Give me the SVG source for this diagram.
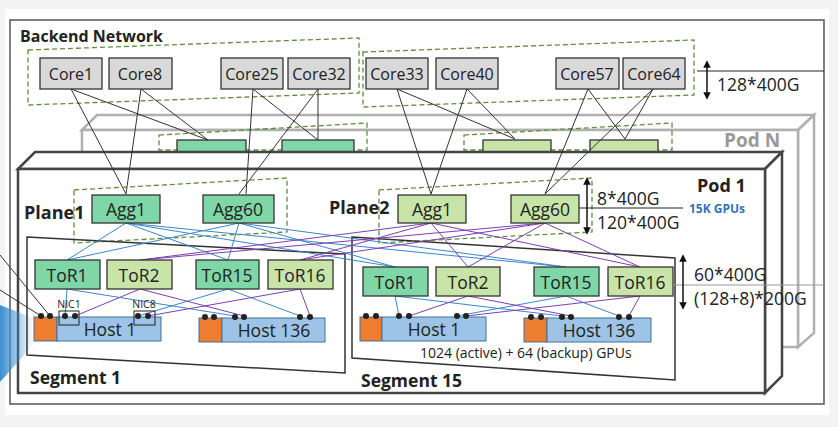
<svg xmlns="http://www.w3.org/2000/svg" width="838" height="427" viewBox="0 0 838 427">
<defs>
<style>
text{font-family:"Open Sans","Noto Sans","Liberation Sans",sans-serif;fill:#222}
.core{fill:#d9d9d9;stroke:#333;stroke-width:1.3}
.g{fill:#7fd6a6;stroke:#333;stroke-width:1.3}
.lg{fill:#c8e4a8;stroke:#333;stroke-width:1.3}
.dash{fill:none;stroke:#5e8f3e;stroke-width:1.3;stroke-dasharray:5,3}
.nt{font-size:16px;text-anchor:middle}
.nt2{font-size:17.5px;text-anchor:middle}
.bl{stroke:#3b86c9;stroke-width:1;fill:none}
.pu{stroke:#7d3fb0;stroke-width:1;fill:none}
.bk{stroke:#333;stroke-width:1;fill:none}
.host{fill:#9dc3e6;stroke:#41719c;stroke-width:1}
.gpu{fill:#ed7d31;stroke:#41719c;stroke-width:1}
.dot{fill:#222}
.b{font-weight:bold}
</style>
<marker id="ah" viewBox="0 0 10 10" refX="5" refY="5" markerWidth="5" markerHeight="5" orient="auto-start-reverse"><path d="M0,0L10,5L0,10z" fill="#111"/></marker>
<linearGradient id="fan" x1="0" x2="1"><stop offset="0" stop-color="#3d8fd0"/><stop offset="1" stop-color="#3d8fd0" stop-opacity="0"/></linearGradient>
</defs>
<rect width="838" height="427" fill="#f3f3f3"/>
<rect x="5" y="9" width="824" height="406" fill="#fff"/>
<rect x="10" y="20" width="814" height="384" fill="none" stroke="#555" stroke-width="1.5"/>
<text x="20" y="42" class="b" font-size="16">Backend Network</text>
<polygon class="dash" points="28,50 359,38 359,93 28,105"/>
<polygon class="dash" points="363,52 694,40 694,95 363,107"/>
<g id="podN" fill="#fff" stroke="#b0b0b0" stroke-width="2.5">
<polygon points="82,130 97,115 814,115 798,130"/>
<polygon points="798,130 814,115 814,333 798,347"/>
<rect x="82" y="130" width="716" height="217"/>
</g>
<text x="724" y="147" class="b" font-size="19" style="fill:#999">Pod N</text>
<polygon class="dash" points="159,135 367,123 367,150 159,150"/>
<polygon class="dash" points="464,135 672,123 672,150 464,150"/>
<rect x="177" y="140" width="69" height="12" class="g"/>
<rect x="282" y="140" width="72" height="12" class="g"/>
<rect x="483" y="140" width="68" height="12" class="lg"/>
<rect x="590" y="140" width="68" height="12" class="lg"/>
<g id="pod1" fill="#fff" stroke="#444" stroke-width="2.5">
<polygon points="18,169 35,152 782,152 765,169"/>
<polygon points="765,169 782,152 782,376 765,393"/>
<rect x="18" y="169" width="747" height="224"/>
</g>
<text x="697" y="192" class="b" font-size="18">Pod 1</text>
<text x="689" y="213" class="b" font-size="12" style="fill:#2e75b6">15K GPUs</text>
<g id="connectors">
<path class="bk" d="M71,89L126,194M71,89L208,140M141,89L126,194M141,89L208,140M253,89L246,194M253,89L318,140M318,89L318,140M318,89L239,194M397,89L431,194M397,89L515,139M467,89L431,194M467,89L515,139M588,89L545,194M588,89L625,139M653,89L625,139M653,89L545,194"/>
<path class="bk" d="M0,255L50,316M0,290L41,316"/>
</g>
<polygon points="0,305 33,318 33,345 0,382" fill="url(#fan)"/>
<polygon class="dash" points="74,190 287,178 287,232 74,243"/>
<polygon class="dash" points="379,190 592,178 592,232 379,243"/>
<text x="24" y="219" class="b" font-size="18">Plane1</text>
<text x="329" y="214" class="b" font-size="18">Plane2</text>
<polygon points="27,237 345,254 345,373 27,355" fill="none" stroke="#333" stroke-width="1.5"/>
<polygon points="352,237 675,258 675,380 352,358" fill="none" stroke="#333" stroke-width="1.5"/>
<g id="links">
<path class="bl" d="M126,223L67,260M126,223L228,260M126,223L395,267M126,223L566,267M239,223L67,260M239,223L228,260M239,223L395,267M239,223L566,267"/>
<path class="pu" d="M431,223L140,260M431,223L300,260M431,223L468,267M431,223L640,267M545,223L140,260M545,223L300,260M545,223L468,267M545,223L640,267"/>
<path class="bl" d="M67,289L65,316M67,289L235,316M228,289L138,316M228,289L300,316M395,296L399,316M395,296L562,316M566,296L457,316M566,296L619,316"/>
<path class="pu" d="M140,289L75,316M140,289L244,316M300,289L148,316M300,289L310,316M468,296L409,316M468,296L571,316M640,296L466,316M640,296L629,316"/>
</g>
<g id="core1"><rect x="40" y="58" width="62" height="31" class="core"/><text x="71" y="80" class="nt">Core1</text></g>
<g id="core8"><rect x="109" y="58" width="63" height="31" class="core"/><text x="140" y="80" class="nt">Core8</text></g>
<g id="core25"><rect x="221" y="58" width="62" height="31" class="core"/><text x="252" y="80" class="nt">Core25</text></g>
<g id="core32"><rect x="288" y="58" width="62" height="31" class="core"/><text x="319" y="80" class="nt">Core32</text></g>
<g id="core33"><rect x="366" y="58" width="62" height="31" class="core"/><text x="397" y="80" class="nt">Core33</text></g>
<g id="core40"><rect x="436" y="58" width="62" height="31" class="core"/><text x="467" y="80" class="nt">Core40</text></g>
<g id="core57"><rect x="556" y="58" width="63" height="31" class="core"/><text x="587" y="80" class="nt">Core57</text></g>
<g id="core64"><rect x="623" y="58" width="62" height="31" class="core"/><text x="654" y="80" class="nt">Core64</text></g>
<line x1="697" y1="71" x2="824" y2="71" stroke="#222"/>
<line x1="707" y1="64" x2="707" y2="96" stroke="#111" stroke-width="1.5" marker-start="url(#ah)" marker-end="url(#ah)"/>
<text x="717" y="91" font-size="17.5">128*400G</text>
<g id="agg1p1"><rect x="92" y="195" width="68" height="28" class="g"/><text x="126" y="216" class="nt2">Agg1</text></g>
<g id="agg60p1"><rect x="203" y="195" width="71" height="28" class="g"/><text x="238" y="216" class="nt2">Agg60</text></g>
<g id="agg1p2"><rect x="398" y="195" width="68" height="28" class="lg"/><text x="432" y="216" class="nt2">Agg1</text></g>
<g id="agg60p2"><rect x="511" y="195" width="68" height="28" class="lg"/><text x="545" y="216" class="nt2">Agg60</text></g>
<line x1="579" y1="208" x2="683" y2="208" stroke="#222"/>
<line x1="587" y1="181" x2="587" y2="231" stroke="#111" stroke-width="1.5" marker-start="url(#ah)" marker-end="url(#ah)"/>
<text x="597" y="205" font-size="17.5">8*400G</text>
<text x="597" y="229" font-size="17.5">120*400G</text>
<g id="s1tor1"><rect x="35" y="260" width="65" height="29" class="g"/><text x="67" y="282" class="nt2">ToR1</text></g>
<g id="s1tor2"><rect x="107" y="260" width="65" height="29" class="lg"/><text x="139" y="282" class="nt2">ToR2</text></g>
<g id="s1tor15"><rect x="196" y="260" width="63" height="29" class="g"/><text x="227" y="282" class="nt2">ToR15</text></g>
<g id="s1tor16"><rect x="268" y="260" width="65" height="29" class="lg"/><text x="300" y="282" class="nt2">ToR16</text></g>
<g id="s15tor1"><rect x="363" y="267" width="65" height="29" class="g"/><text x="395" y="289" class="nt2">ToR1</text></g>
<g id="s15tor2"><rect x="436" y="267" width="64" height="29" class="lg"/><text x="468" y="289" class="nt2">ToR2</text></g>
<g id="s15tor15"><rect x="534" y="267" width="65" height="29" class="g"/><text x="566" y="289" class="nt2">ToR15</text></g>
<g id="s15tor16"><rect x="608" y="267" width="65" height="29" class="lg"/><text x="640" y="289" class="nt2">ToR16</text></g>
<line x1="673" y1="285" x2="824" y2="285" stroke="#999"/>
<line x1="683" y1="258" x2="683" y2="306" stroke="#111" stroke-width="1.5" marker-start="url(#ah)" marker-end="url(#ah)"/>
<text x="694" y="281" font-size="17.5">60*400G</text>
<text x="694" y="305" font-size="17.5">(128+8)*200G</text>
<g id="s1host1"><rect x="34" y="317" width="23" height="24" class="gpu"/><rect x="57" y="317" width="104" height="24" class="host"/><text x="110" y="336" class="nt2">Host 1</text>
<rect x="59" y="311" width="20" height="14" fill="none" stroke="#222"/><rect x="134" y="311" width="21" height="14" fill="none" stroke="#222"/>
<text x="69" y="308" text-anchor="middle" font-size="10.5">NIC1</text><text x="144" y="308" text-anchor="middle" font-size="10.5">NIC8</text></g>
<g id="s1host136"><rect x="199" y="318" width="23" height="24" class="gpu"/><rect x="222" y="318" width="103" height="24" class="host"/><text x="274" y="337" class="nt2">Host 136</text></g>
<g id="s15host1"><rect x="360" y="317" width="22" height="24" class="gpu"/><rect x="382" y="317" width="104" height="24" class="host"/><text x="434" y="336" class="nt2">Host 1</text></g>
<g id="s15host136"><rect x="524" y="318" width="23" height="24" class="gpu"/><rect x="547" y="318" width="104" height="24" class="host"/><text x="599" y="337" class="nt2">Host 136</text></g>
<g class="dot">
<circle cx="41" cy="316" r="3"/><circle cx="50" cy="316" r="3"/><circle cx="65" cy="316" r="3"/><circle cx="75" cy="316" r="3"/><circle cx="138" cy="316" r="3"/><circle cx="148" cy="316" r="3"/>
<circle cx="205" cy="317" r="3"/><circle cx="214" cy="317" r="3"/><circle cx="235" cy="317" r="3"/><circle cx="244" cy="317" r="3"/><circle cx="300" cy="317" r="3"/><circle cx="310" cy="317" r="3"/>
<circle cx="366" cy="316" r="3"/><circle cx="376" cy="316" r="3"/><circle cx="399" cy="316" r="3"/><circle cx="409" cy="316" r="3"/><circle cx="457" cy="316" r="3"/><circle cx="466" cy="316" r="3"/>
<circle cx="531" cy="317" r="3"/><circle cx="541" cy="317" r="3"/><circle cx="562" cy="317" r="3"/><circle cx="571" cy="317" r="3"/><circle cx="619" cy="317" r="3"/><circle cx="629" cy="317" r="3"/>
</g>
<text x="420" y="358" font-size="14">1024 (active) + 64 (backup) GPUs</text>
<text x="30" y="384" class="b" font-size="17.5">Segment 1</text>
<text x="361" y="387" class="b" font-size="17.5">Segment 15</text>
</svg>
